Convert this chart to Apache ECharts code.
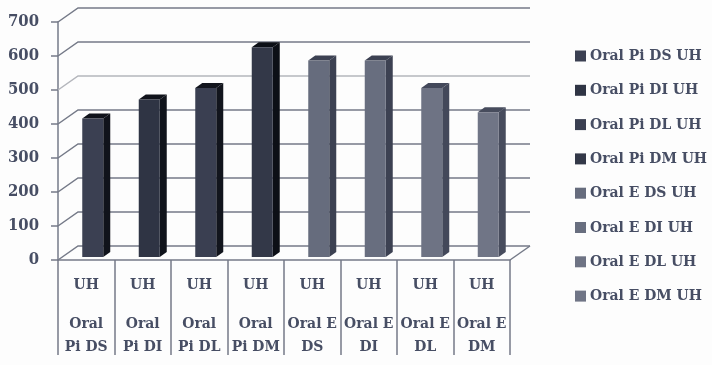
<!DOCTYPE html>
<html>
<head>
<meta charset="utf-8">
<script src="https://cdn.jsdelivr.net/npm/echarts@6/dist/echarts.min.js"></script>
<style>
  html, body { margin: 0; padding: 0; background: #fdfdfd; }
  #chart { width: 712px; height: 365px; filter: blur(0.5px); }
</style>
</head>
<body>
<div id="chart"></div>
<script>
const categories = ['Oral Pi DS', 'Oral Pi DI', 'Oral Pi DL', 'Oral Pi DM', 'Oral E DS', 'Oral E DI', 'Oral E DL', 'Oral E DM'];
const labelTop = ['Oral', 'Oral', 'Oral', 'Oral', 'Oral E', 'Oral E', 'Oral E', 'Oral E'];
const labelBottom = ['Pi DS', 'Pi DI', 'Pi DL', 'Pi DM', 'DS', 'DI', 'DL', 'DM'];
const seriesNames = ['Oral Pi DS UH', 'Oral Pi DI UH', 'Oral Pi DL UH', 'Oral Pi DM UH', 'Oral E DS UH', 'Oral E DI UH', 'Oral E DL UH', 'Oral E DM UH'];
const values = [407, 463, 497, 617, 578, 578, 497, 426];
const yTicks = [0, 100, 200, 300, 400, 500, 600, 700];
const frontColors = ['#3b4052', '#2f3444', '#3a3f51', '#333848', '#666c7d', '#686e7f', '#6e7384', '#707586'];
const sideColors = ['#10131b', '#10131b', '#12151d', '#0c0f16', '#3c4152', '#3c4152', '#43485a', '#474c5d'];

const textColor = '#474e64';
const lineColor = '#757a88';
const fadedLineColor = '#b4b6bc';
const fontName = '"DejaVu Serif Condensed", "DejaVu Serif", serif';

// depth of the back wall and of the bars, in pixels
const wallX = 20, wallY = -14;
const barX = 7, barY = -5;

const chart = echarts.init(document.getElementById('chart'));

function renderWall(params, api) {
  const tick = api.value(0);
  const p = api.coord([0, tick]);
  const left = params.coordSys.x;
  const right = left + params.coordSys.width;
  return {
    type: 'polyline',
    shape: { points: [[left, p[1]], [left + wallX, p[1] + wallY], [right + wallX, p[1] + wallY]] },
    // the 500 line is much paler in the scan
    style: { fill: null, stroke: tick === 500 ? fadedLineColor : lineColor, lineWidth: 1.5 }
  };
}

function renderFloor(params, api) {
  const p = api.coord([0, 0]);
  const right = params.coordSys.x + params.coordSys.width;
  return {
    type: 'line',
    shape: { x1: right, y1: p[1], x2: right + wallX, y2: p[1] + wallY },
    style: { stroke: lineColor, lineWidth: 1.5 }
  };
}

function makeBarRenderer(index) {
  return function (params, api) {
    const base = api.coord([api.value(0), 0]);
    const top = api.coord([api.value(0), api.value(1)]);
    const x0 = base[0] - 4, x1 = base[0] + 17;
    const y0 = base[1] - 3, y1 = top[1] - 3;
    return {
      type: 'group',
      children: [
        {
          type: 'polygon',
          shape: { points: [[x1, y0], [x1 + barX, y0 + barY], [x1 + barX, y1 + barY], [x1, y1]] },
          style: { fill: sideColors[index] }
        },
        {
          type: 'polygon',
          shape: { points: [[x0, y1], [x0 + barX, y1 + barY], [x1 + barX, y1 + barY], [x1, y1]] },
          style: { fill: sideColors[index] }
        },
        {
          type: 'rect',
          shape: { x: x0, y: y1, width: x1 - x0, height: y0 - y1 },
          style: { fill: frontColors[index] }
        }
      ]
    };
  };
}

const barSeries = seriesNames.map((name, i) => ({
  name: name,
  type: 'custom',
  z: 5,
  silent: true,
  itemStyle: { color: frontColors[i] },
  renderItem: makeBarRenderer(i),
  encode: { x: 0, y: 1 },
  data: [[i, values[i]]]
}));

const option = {
  backgroundColor: '#fdfdfd',
  animation: false,
  textStyle: { fontFamily: fontName },
  grid: { left: 58, right: 202, top: 22, bottom: 105 },
  legend: {
    orient: 'vertical',
    left: 570,
    top: 41,
    itemWidth: 11,
    itemHeight: 11,
    itemGap: 14.3,
    icon: 'rect',
    data: seriesNames,
    textStyle: { color: textColor, fontFamily: fontName, fontWeight: 'bold', fontSize: 15.5, padding: [0, 0, 0, -1], lineHeight: 20 }
  },
  xAxis: {
    type: 'category',
    data: categories,
    axisLine: { lineStyle: { color: lineColor, width: 1.5 } },
    axisTick: { show: true, alignWithLabel: false, length: 95, lineStyle: { color: lineColor, width: 1.5 } },
    axisLabel: {
      interval: 0,
      margin: 17,
      formatter: function (value) {
        const i = categories.indexOf(value);
        return '{u|UH}\n{o|' + labelTop[i] + '}\n{o|' + labelBottom[i] + '}';
      },
      rich: {
        u: { color: textColor, fontFamily: fontName, fontWeight: 'bold', fontSize: 15.5, lineHeight: 35, verticalAlign: 'top' },
        o: { color: textColor, fontFamily: fontName, fontWeight: 'bold', fontSize: 15.5, lineHeight: 23 }
      }
    }
  },
  yAxis: {
    type: 'value',
    min: 0,
    max: 700,
    interval: 100,
    splitLine: { show: false },
    axisLine: { show: true, lineStyle: { color: lineColor, width: 1.5 } },
    axisTick: { show: true, length: 7, lineStyle: { color: lineColor, width: 1.5 } },
    axisLabel: { margin: 19, color: textColor, fontFamily: fontName, fontWeight: 'bold', fontSize: 16.5 }
  },
  series: [
    {
      name: 'wall',
      type: 'custom',
      z: 1,
      silent: true,
      clip: false,
      renderItem: renderWall,
      encode: { y: 0 },
      data: yTicks.map(t => [t])
    },
    {
      name: 'floor',
      type: 'custom',
      z: 1,
      silent: true,
      clip: false,
      renderItem: renderFloor,
      data: [[0]]
    }
  ].concat(barSeries)
};

chart.setOption(option);
</script>
</body>
</html>
